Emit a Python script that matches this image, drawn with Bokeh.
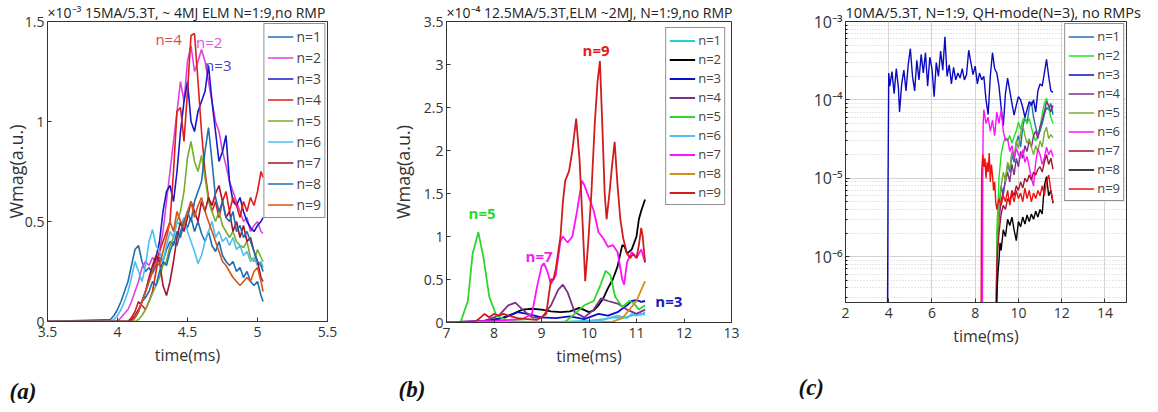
from bokeh.plotting import figure
from bokeh.layouts import row
from bokeh.models import Range1d, FixedTicker, CustomJSTickFormatter, Label, Title
from bokeh.embed import file_html
from bokeh.resources import INLINE

FONT = "Open Sans"
AX = "#333333"
names = ["n=1", "n=2", "n=3", "n=4", "n=5", "n=6", "n=7", "n=8", "n=9"]

# ---------------- panel (a) data (units of 1e-3) ----------------
t_a = [3.5, 3.95, 3.975, 4.0, 4.025, 4.05, 4.075, 4.1, 4.125, 4.15,
       4.175, 4.2, 4.225, 4.25, 4.275, 4.3, 4.325, 4.35, 4.375, 4.4,
       4.425, 4.45, 4.475, 4.5, 4.525, 4.55, 4.575, 4.6, 4.625, 4.65,
       4.675, 4.7, 4.725, 4.75, 4.775, 4.8, 4.825, 4.85, 4.875, 4.9,
       4.925, 4.95, 4.975, 5.0, 5.025, 5.04]
a_n1 = [0, 0.01, 0.03, 0.06, 0.10, 0.15, 0.20, 0.28, 0.36, 0.38,
        0.30, 0.25, 0.27, 0.24, 0.28, 0.32, 0.30, 0.36, 0.40, 0.38,
        0.45, 0.42, 0.50, 0.47, 0.52, 0.45, 0.50, 0.44, 0.40, 0.45,
        0.38, 0.35, 0.40, 0.33, 0.30, 0.28, 0.30, 0.25, 0.27, 0.22,
        0.25, 0.20, 0.18, 0.20, 0.13, 0.10]
a_n2 = [0, 0, 0, 0, 0.02, 0.04, 0.06, 0.10, 0.15, 0.20,
        0.27, 0.30, 0.28, 0.32, 0.30, 0.35, 0.45, 0.60, 0.75, 0.90,
        1.05, 1.20, 1.10, 1.30, 1.38, 1.25, 1.30, 1.36, 1.30, 1.20,
        1.10, 1.00, 0.95, 0.85, 0.78, 0.70, 0.65, 0.60, 0.55, 0.50,
        0.52, 0.45, 0.48, 0.50, 0.45, 0.44]
a_n3 = [0, 0, 0, 0, 0, 0, 0, 0, 0.02, 0.05,
        0.10, 0.15, 0.20, 0.25, 0.32, 0.40, 0.55, 0.65, 0.68, 0.60,
        0.75, 0.95, 1.10, 1.20, 1.00, 0.95, 1.05, 1.10, 1.15, 1.28,
        1.10, 0.95, 0.80, 0.85, 0.93, 0.70, 0.60, 0.58, 0.62, 0.55,
        0.50, 0.47, 0.45, 0.48, 0.50, 0.52]
a_n4 = [0, 0, 0, 0, 0, 0, 0, 0.02, 0.05, 0.10,
        0.08, 0.06, 0.10, 0.15, 0.25, 0.35, 0.40, 0.45, 0.50, 0.75,
        1.05, 1.07, 0.90, 1.15, 1.43, 1.44, 1.20, 0.95, 0.75, 0.62,
        0.55, 0.60, 0.52, 0.60, 0.65, 0.55, 0.62, 0.58, 0.52, 0.60,
        0.55, 0.62, 0.58, 0.65, 0.75, 0.72]
a_n5 = [0, 0, 0, 0, 0, 0, 0, 0, 0, 0.01,
        0.03, 0.06, 0.10, 0.14, 0.18, 0.22, 0.28, 0.30, 0.38, 0.42,
        0.50, 0.55, 0.65, 0.82, 0.90, 0.80, 0.75, 0.83, 0.72, 0.60,
        0.55, 0.50, 0.55, 0.48, 0.45, 0.42, 0.45, 0.40, 0.38, 0.37,
        0.40, 0.32, 0.30, 0.36, 0.32, 0.30]
a_n6 = [0, 0, 0.01, 0.03, 0.06, 0.10, 0.15, 0.22, 0.30, 0.25,
        0.20, 0.28, 0.40, 0.46, 0.38, 0.35, 0.30, 0.38, 0.45, 0.42,
        0.50, 0.48, 0.52, 0.45, 0.40, 0.35, 0.29, 0.33, 0.40, 0.45,
        0.50, 0.42, 0.45, 0.40, 0.42, 0.38, 0.42, 0.36, 0.38, 0.33,
        0.35, 0.30, 0.32, 0.28, 0.30, 0.27]
a_n7 = [0, 0, 0, 0, 0, 0, 0, 0.01, 0.03, 0.06,
        0.10, 0.15, 0.22, 0.28, 0.33, 0.30, 0.18, 0.13, 0.20, 0.30,
        0.42, 0.50, 0.45, 0.52, 0.60, 0.55, 0.50, 0.60, 0.55, 0.62,
        0.58, 0.64, 0.68, 0.60, 0.52, 0.55, 0.45, 0.50, 0.42, 0.48,
        0.40, 0.42, 0.35, 0.30, 0.22, 0.20]
a_n8 = [0, 0, 0, 0, 0, 0, 0, 0, 0.02, 0.05,
        0.10, 0.12, 0.15, 0.20, 0.18, 0.25, 0.30, 0.28, 0.35, 0.40,
        0.38, 0.45, 0.50, 0.55, 0.50, 0.60, 0.65, 0.70, 0.85, 0.97,
        0.80, 0.62, 0.55, 0.60, 0.52, 0.50, 0.55, 0.45, 0.48, 0.42,
        0.45, 0.40, 0.35, 0.30, 0.28, 0.25]
a_n9 = [0, 0, 0, 0, 0, 0, 0, 0, 0.02, 0.05,
        0.10, 0.15, 0.20, 0.25, 0.30, 0.28, 0.35, 0.42, 0.50, 0.45,
        0.55, 0.50, 0.48, 0.55, 0.60, 0.52, 0.58, 0.62, 0.55, 0.50,
        0.45, 0.40, 0.35, 0.30, 0.28, 0.25, 0.22, 0.20, 0.18, 0.20,
        0.22, 0.20, 0.25, 0.27, 0.20, 0.15]
a_series = [a_n1, a_n2, a_n3, a_n4, a_n5, a_n6, a_n7, a_n8, a_n9]
a_colors = ["#1f6fb0", "#e040e0", "#1818c8", "#e01c1c", "#77ac30",
            "#4dbeee", "#a2142f", "#1f6fb0", "#d95319"]

# ---------------- panel (b) data (units of 1e-4) ----------------
b_x1 = [7.0, 9.0, 9.5, 10.0, 10.3, 10.5, 10.7, 10.9, 11.0, 11.1, 11.18]
b_n1 = [0, 0, 0.01, 0.02, 0.04, 0.06, 0.05, 0.08, 0.10, 0.09, 0.12]
b_x2 = [7.0, 7.6, 8.0, 8.2, 8.4, 8.6, 8.8, 9.0, 9.2, 9.4, 9.6, 9.8, 10.0, 10.1,
        10.2, 10.3, 10.4, 10.5, 10.6, 10.7, 10.75, 10.8, 10.9, 11.0, 11.05, 11.1, 11.18]
b_n2 = [0, 0.01, 0.03, 0.06, 0.10, 0.15, 0.16, 0.15, 0.13, 0.12, 0.13, 0.17, 0.12, 0.14,
        0.20, 0.28, 0.40, 0.50, 0.65, 0.90, 0.88, 0.80, 0.85, 1.00, 1.20, 1.30, 1.43]
b_x3 = [7.0, 7.8, 8.2, 8.5, 8.7, 9.0, 9.3, 9.6, 9.9, 10.2, 10.4, 10.6, 10.8, 10.9, 11.0, 11.1, 11.18]
b_n3 = [0, 0.02, 0.05, 0.12, 0.10, 0.06, 0.05, 0.07, 0.04, 0.10, 0.08, 0.12, 0.20, 0.25, 0.26, 0.24, 0.25]
b_x4 = [7.0, 7.8, 8.1, 8.3, 8.45, 8.6, 8.8, 9.0, 9.2, 9.35, 9.45, 9.55, 9.7, 9.9,
        10.1, 10.25, 10.4, 10.6, 10.8, 11.0, 11.18]
b_n4 = [0, 0.02, 0.08, 0.20, 0.23, 0.15, 0.06, 0.05, 0.20, 0.38, 0.44, 0.35, 0.12, 0.06,
        0.15, 0.28, 0.25, 0.22, 0.15, 0.10, 0.15]
b_x5 = [7.0, 7.3, 7.45, 7.55, 7.67, 7.78, 7.9, 8.05, 8.3, 9.0, 9.5, 9.7, 9.9, 10.1,
        10.25, 10.35, 10.45, 10.55, 10.7, 10.85, 10.95, 11.05, 11.18]
b_n5 = [0, 0.01, 0.25, 0.80, 1.05, 0.75, 0.30, 0.08, 0.02, 0, 0.01, 0.10, 0.20, 0.25,
        0.45, 0.60, 0.55, 0.30, 0.18, 0.25, 0.22, 0.15, 0.20]
b_x6 = [7.0, 9.5, 10.0, 10.3, 10.6, 10.8, 10.9, 11.0, 11.1, 11.18]
b_n6 = [0, 0, 0.02, 0.03, 0.08, 0.05, 0.10, 0.08, 0.10, 0.09]
b_x7 = [7.0, 8.0, 8.6, 8.8, 8.9, 9.0, 9.05, 9.12, 9.2, 9.3, 9.4, 9.45, 9.55, 9.65, 9.75,
        9.85, 9.9, 10.0, 10.1, 10.2, 10.3, 10.4, 10.5, 10.6, 10.7, 10.74, 10.8, 10.9,
        11.0, 11.1, 11.18]
b_n7 = [0, 0.02, 0.04, 0.10, 0.40, 0.65, 0.69, 0.60, 0.45, 0.55, 0.95, 1.00, 0.93, 1.00, 1.30,
        1.65, 1.60, 1.45, 1.30, 1.05, 0.98, 0.88, 0.90, 0.82, 0.50, 0.44, 0.70, 0.82,
        0.75, 0.85, 0.70]
b_x8 = [7.0, 10.0, 10.5, 10.7, 10.85, 11.0, 11.1, 11.18]
b_n8 = [0, 0, 0.01, 0.05, 0.15, 0.25, 0.38, 0.48]
b_x9 = [7.0, 7.6, 7.7, 7.8, 7.9, 8.0, 8.1, 8.2, 8.3, 8.5,
        8.7, 8.9, 9.1, 9.15, 9.2, 9.25, 9.3, 9.4, 9.45, 9.5,
        9.58, 9.65, 9.73, 9.8, 9.87, 9.92, 9.98, 10.05, 10.12, 10.18,
        10.23, 10.28, 10.33, 10.37, 10.43, 10.49, 10.54, 10.6, 10.66, 10.72,
        10.8, 10.87, 10.93, 11.0, 11.05, 11.1, 11.13, 11.18]
b_n9 = [0, 0.01, 0.05, 0.10, 0.06, 0.10, 0.08, 0.10, 0.08, 0.05,
        0.04, 0.03, 0.10, 0.30, 0.50, 0.50, 0.62, 1.00, 1.40, 1.65,
        1.76, 2.00, 2.37, 1.90, 1.10, 0.48, 0.90, 1.50, 2.30, 2.80,
        3.04, 2.30, 1.50, 1.20, 1.50, 1.85, 2.10, 1.60, 1.20, 0.98,
        0.80, 0.75, 0.80, 0.75, 0.90, 1.10, 1.00, 0.70]
b_xs = [b_x1, b_x2, b_x3, b_x4, b_x5, b_x6, b_x7, b_x8, b_x9]
b_series = [b_n1, b_n2, b_n3, b_n4, b_n5, b_n6, b_n7, b_n8, b_n9]
b_colors = ["#22d0d0", "#000000", "#0a10c8", "#7e2f8e", "#2ed62e",
            "#4dbeee", "#ff10ff", "#d09020", "#d01c1c"]

# ---------------- panel (c) data ----------------
c_x3 = [3.94, 3.97, 4.0, 4.05, 4.15, 4.25, 4.35, 4.45, 4.5, 4.6,
        4.7, 4.8, 4.9, 5.0, 5.1, 5.2, 5.3, 5.4, 5.5, 5.6,
        5.7, 5.8, 5.9, 6.0, 6.1, 6.2, 6.3, 6.4, 6.5, 6.6,
        6.7, 6.8, 6.9, 7.0, 7.1, 7.2, 7.3, 7.4, 7.5, 7.6,
        7.7, 7.8, 7.9, 8.0, 8.1, 8.2, 8.3, 8.4, 8.5, 8.6,
        8.7, 8.8, 8.9, 9.0, 9.1, 9.2, 9.3, 9.4, 9.5, 9.6,
        9.7, 9.8, 9.9, 10.0, 10.1, 10.2, 10.3, 10.4, 10.5, 10.6,
        10.7, 10.8, 10.9, 11.0, 11.1, 11.2, 11.3, 11.4, 11.5, 11.6]
c_n3 = [0.001, 0.1, 2.2, 1.5, 2.3, 1.2, 2.5, 1.4, 0.7, 1.6,
        2.4, 1.3, 2.8, 4.5, 2.0, 1.3, 3.2, 1.8, 3.8, 2.2,
        4.0, 1.5, 3.5, 2.5, 1.1, 3.0, 2.0, 4.2, 2.4, 6.4,
        2.0, 2.8, 1.6, 2.6, 1.8, 2.2, 1.9, 2.5, 1.8, 2.1,
        4.3, 3.0, 2.1, 2.7, 1.6, 2.2, 1.8, 2.0, 1.0, 0.65,
        2.0, 4.0, 2.5, 2.2, 1.5, 0.8, 0.47, 1.2, 1.9, 1.3,
        0.9, 0.64, 0.85, 1.1, 1.0, 0.8, 0.6, 0.75, 0.95, 0.85,
        1.0, 0.7, 1.3, 1.6, 1.5, 2.2, 3.3, 2.0, 1.3, 1.25]          # x1e-4
c_x6 = [8.33, 8.35, 8.37, 8.4, 8.5, 8.6, 8.7, 8.8, 8.9, 9.0,
        9.1, 9.2, 9.3, 9.4, 9.5, 9.6, 9.7, 9.8, 9.9, 10.0,
        10.1, 10.2, 10.3, 10.4, 10.5, 10.6, 10.7, 10.8, 10.9, 11.0,
        11.1, 11.2, 11.3, 11.4, 11.5, 11.6]
c_n6 = [0.01, 1.0, 5.0, 7.5, 5.0, 6.0, 4.0, 5.5, 3.5, 7.0,
        5.0, 7.5, 4.0, 3.0, 3.2, 2.2, 2.6, 1.8, 2.4, 2.0,
        1.8, 2.3, 1.6, 1.9, 1.4, 1.0, 0.8, 1.6, 2.4, 2.0,
        1.5, 1.8, 2.5, 2.0, 2.3, 1.9]                               # x1e-5
c_x9 = [8.27, 8.29, 8.3, 8.35, 8.4, 8.45, 8.5, 8.55, 8.6, 8.65,
        8.7, 8.75, 8.8, 8.85, 8.9, 8.95, 9.0, 9.1, 9.2, 9.3,
        9.4, 9.5, 9.6, 9.7, 9.8, 9.9, 10.0, 10.1, 10.2, 10.3,
        10.4, 10.5, 10.6, 10.7, 10.8, 10.9, 11.0, 11.1, 11.2, 11.3,
        11.4, 11.5, 11.6]
c_n9 = [0.1, 3, 12, 20, 14, 18, 10, 16, 12, 21,
        9, 15, 11, 7, 9, 5, 4, 5.5, 4.5, 6,
        5, 7, 4.5, 6.5, 5, 7, 5.5, 6.5, 5, 7.5,
        5.5, 7, 5, 6.5, 5.5, 7, 6, 8, 6, 9,
        11, 7, 5]                                                   # x1e-6
c_x8 = [8.98, 9.0, 9.05, 9.1, 9.15, 9.2, 9.3, 9.4, 9.5, 9.6,
        9.7, 9.8, 9.9, 10.0, 10.1, 10.2, 10.3, 10.4, 10.5, 10.6,
        10.7, 10.8, 10.9, 11.0, 11.1, 11.2, 11.3, 11.4, 11.5, 11.6]
c_n8 = [0.1, 0.3, 0.6, 0.9, 1.5, 1.2, 2.2, 1.8, 3.0, 2.5,
        3.2, 2.2, 1.6, 2.8, 2.4, 3.2, 2.6, 3.4, 2.8, 3.5,
        3.0, 3.8, 3.2, 4.0, 3.5, 8.0, 10.5, 6.0, 7.0, 4.8]           # x1e-6
c_xg = [8.98, 9.0, 9.1, 9.2, 9.3, 9.4, 9.5, 9.6, 9.7, 9.8,
        9.9, 10.0, 10.1, 10.2, 10.3, 10.4, 10.5, 10.6, 10.7, 10.8,
        10.9, 11.0, 11.1, 11.2, 11.3, 11.4, 11.5, 11.6]
c_n1 = [0.02, 0.1, 0.4, 0.8, 0.6, 1.0, 1.5, 1.2, 2.0, 1.6,
        2.8, 3.5, 2.5, 4.5, 6.0, 5.0, 8.0, 9.5, 6.0, 4.5,
        3.5, 4.0, 5.0, 6.5, 8.0, 7.5, 9.0, 6.5]                     # x1e-5
c_n2 = [0.02, 0.2, 1.0, 2.0, 2.8, 3.3, 3.0, 3.5, 2.8, 3.4,
        4.0, 5.2, 4.2, 5.5, 6.0, 5.0, 5.8, 4.5, 3.5, 3.0,
        3.4, 4.5, 6.5, 9.0, 10.5, 8.0, 6.0, 5.0]
c_n4 = [0.02, 0.1, 0.3, 0.5, 0.7, 0.9, 1.2, 0.9, 1.5, 1.1,
        1.8, 1.4, 2.2, 1.8, 2.6, 2.2, 3.0, 2.5, 3.5, 4.0,
        3.2, 4.5, 5.5, 7.0, 9.5, 8.5, 7.0, 8.5]
c_n5 = [0.02, 0.1, 0.4, 0.8, 1.2, 0.9, 1.6, 1.3, 2.2, 1.8,
        3.0, 2.4, 3.8, 4.8, 3.5, 2.8, 3.2, 2.5, 2.0, 2.6,
        2.2, 3.0, 2.5, 3.8, 4.5, 3.2, 3.6, 3.3]
c_n7 = [0.02, 0.08, 0.2, 0.35, 0.45, 0.4, 0.55, 0.5, 0.7, 0.6,
        0.8, 0.7, 0.9, 0.75, 1.0, 0.9, 1.1, 0.95, 1.2, 1.1,
        1.3, 1.4, 1.2, 1.6, 2.0, 1.5, 1.8, 1.3]
c_xs = [c_xg, c_xg, c_x3, c_xg, c_xg, c_x6, c_xg, c_x8, c_x9]
c_series = [c_n1, c_n2, c_n3, c_n4, c_n5, c_n6, c_n7, c_n8, c_n9]
c_units = [1e-5, 1e-5, 1e-4, 1e-5, 1e-5, 1e-5, 1e-5, 1e-6, 1e-6]
c_colors = ["#1f6fb0", "#22e022", "#0a0ac0", "#7e2f8e", "#77ac30",
            "#ff10ff", "#a2142f", "#000000", "#f01010"]

lin_fmt = "return String(Math.round(tick*1000)/1000);"
log_fmt = """
var sup = {'-':'\\u207b','0':'\\u2070','1':'\\u00b9','2':'\\u00b2','3':'\\u00b3','4':'\\u2074',
           '5':'\\u2075','6':'\\u2076','7':'\\u2077','8':'\\u2078','9':'\\u2079'};
var e = Math.round(Math.log(tick)/Math.LN10);
return '10' + String(e).split('').map(function(c){return sup[c];}).join('');
"""


def make(title, tsize, xr, yr, fw, fh, bl, br, bt, bb, xticks, yticks, ylog=False,
         xlabel="time(ms)", ylabel=None, ylab_standoff=0):
    p = figure(frame_width=fw, frame_height=fh, min_border_left=bl, min_border_right=br,
               min_border_top=bt, min_border_bottom=bb,
               x_range=Range1d(*xr), y_range=Range1d(*yr),
               y_axis_type="log" if ylog else "linear",
               output_backend="svg", toolbar_location=None)
    p.title.text = title
    p.title.text_font = FONT
    p.title.text_font_size = tsize
    p.title.text_font_style = "normal"
    p.title.text_color = "#222222"
    p.title.align = "left"
    p.title.standoff = 0
    p.title.text_line_height = 1.0
    p.outline_line_color = AX
    p.outline_line_width = 1
    p.background_fill_color = "white"
    p.xaxis.ticker = FixedTicker(ticks=xticks)
    p.xaxis.formatter = CustomJSTickFormatter(code=lin_fmt)
    if ylog:
        minor = [k * 10.0 ** d for d in range(-7, -3) for k in range(2, 10)]
        p.yaxis.ticker = FixedTicker(ticks=yticks, minor_ticks=minor)
        p.yaxis.formatter = CustomJSTickFormatter(code=log_fmt)
    else:
        p.yaxis.ticker = FixedTicker(ticks=yticks)
        p.yaxis.formatter = CustomJSTickFormatter(code=lin_fmt)
    for ax in (p.xaxis[0], p.yaxis[0]):
        ax.axis_line_color = AX
        ax.major_tick_line_color = AX
        ax.major_tick_in = 4
        ax.major_tick_out = 0
        ax.minor_tick_in = 0
        ax.minor_tick_out = 0
        ax.major_label_text_font = FONT
        ax.major_label_text_font_size = "14px"
        ax.major_label_text_color = "#333333"
        ax.axis_label_text_font = FONT
        ax.axis_label_text_font_size = "16px"
        ax.axis_label_text_font_style = "normal"
        ax.axis_label_text_color = "#333333"
        ax.major_label_standoff = 5
        ax.axis_label_standoff = 4
    p.yaxis.major_label_standoff = 3
    p.yaxis.axis_label_standoff = ylab_standoff
    p.yaxis.axis_label_text_font_size = "18px"
    p.xaxis.axis_label = xlabel
    if ylabel:
        p.yaxis.axis_label = ylabel
    return p


def style_legend(p, fs, lh, spacing, margin):
    lg = p.legend[0]
    lg.location = "top_right"
    lg.margin = margin
    lg.padding = 3
    lg.spacing = spacing
    lg.label_height = lh
    lg.glyph_height = lh
    lg.glyph_width = 26
    lg.label_standoff = 3
    lg.label_text_font = FONT
    lg.label_text_font_size = fs
    lg.border_line_color = "#222222"
    lg.border_line_width = 1
    lg.background_fill_alpha = 1.0


def tag(p, text, offset, gap):
    if gap > 0:
        p.add_layout(Title(text="\u00a0", standoff=0, text_font="Liberation Sans",
                           text_font_size="%dpx" % gap, text_line_height=1.0,
                           text_color="white"), "below")
    p.add_layout(Title(text=text, align="left", offset=offset, standoff=0,
                       text_font="Liberation Serif", text_font_style="bold italic",
                       text_font_size="23px", text_color="#111111"), "below")


# ---------- (a) ----------
p1 = make("\u00d710\u207b\u00b3 15MA/5.3T, ~ 4MJ ELM N=1:9,no RMP", "14px", (3.5, 5.5), (0, 1.5),
          280, 300, 38, 59, 15, 81, [3.5, 4, 4.5, 5, 5.5], [0, 0.5, 1, 1.5],
          ylabel="Wmag(a.u.)", ylab_standoff=-6)
p1.grid.visible = False
for ys, col, nm in zip(a_series, a_colors, names):
    p1.line(t_a, ys, line_color=col, line_width=1.6, legend_label=nm)
style_legend(p1, "14px", 19, 2, 2)
for tx, ty, txt, col in [(4.365, 1.415, "n=4", "#e4464e"), (4.655, 1.40, "n=2", "#e84de4"),
                         (4.72, 1.285, "n=3", "#4444c4")]:
    p1.add_layout(Label(x=tx, y=ty, text=txt, text_color=col, text_font=FONT,
                        text_font_size="15px", text_align="center", text_baseline="middle"))
tag(p1, "(a)", -38, 5)

# ---------- (b) ----------
p2 = make("\u00d710\u207b\u2074 12.5MA/5.3T,ELM ~2MJ, N=1:9,no RMP", "14px", (7, 13), (0, 3.5),
          285, 301, 60, 40, 16, 79, [7, 8, 9, 10, 11, 12, 13],
          [0, 0.5, 1, 1.5, 2, 2.5, 3, 3.5], ylabel="Wmag(a.u.)", ylab_standoff=6)
p2.grid.visible = False
for xs, ys, col, nm in zip(b_xs, b_series, b_colors, names):
    p2.line(xs, ys, line_color=col, line_width=1.8, legend_label=nm)
style_legend(p2, "13px", 17, 1, 6)
for tx, ty, txt, col in [(7.75, 1.27, "n=5", "#2ed62e"), (8.95, 0.77, "n=7", "#f020f0"),
                         (10.15, 3.17, "n=9", "#e02020"), (11.68, 0.25, "n=3", "#1a1ab8")]:
    p2.add_layout(Label(x=tx, y=ty, text=txt, text_color=col, text_font=FONT,
                        text_font_style="bold", text_font_size="15px",
                        text_align="center", text_baseline="middle"))
tag(p2, "(b)", -48, 3)

# ---------- (c) ----------
p3 = make("10MA/5.3T, N=1:9, QH-mode(N=3), no RMPs", "14.5px", (2, 15), (2.6e-7, 1e-3),
          281, 281, 74, 24, 18, 97, [2, 4, 6, 8, 10, 12, 14],
          [1e-6, 1e-5, 1e-4, 1e-3], ylog=True)
p3.xgrid.grid_line_color = "#d4d4d4"
p3.ygrid.grid_line_color = "#d4d4d4"
p3.ygrid.minor_grid_line_color = "#cfcfcf"
p3.ygrid.minor_grid_line_dash = "1 2"
p3.yaxis.minor_tick_in = 2
p3.yaxis.major_label_text_font_size = "16px"
for xs, ys, u, col, nm in zip(c_xs, c_series, c_units, c_colors, names):
    p3.line(xs, [v * u for v in ys], line_color=col, line_width=1.4, legend_label=nm)
style_legend(p3, "13px", 17, 1, 2)
tag(p3, "(c)", -47, 19)

layout = row(p1, p2, p3)
with open("out.html", "w", encoding="utf-8") as f:
    f.write(file_html(layout, INLINE))
